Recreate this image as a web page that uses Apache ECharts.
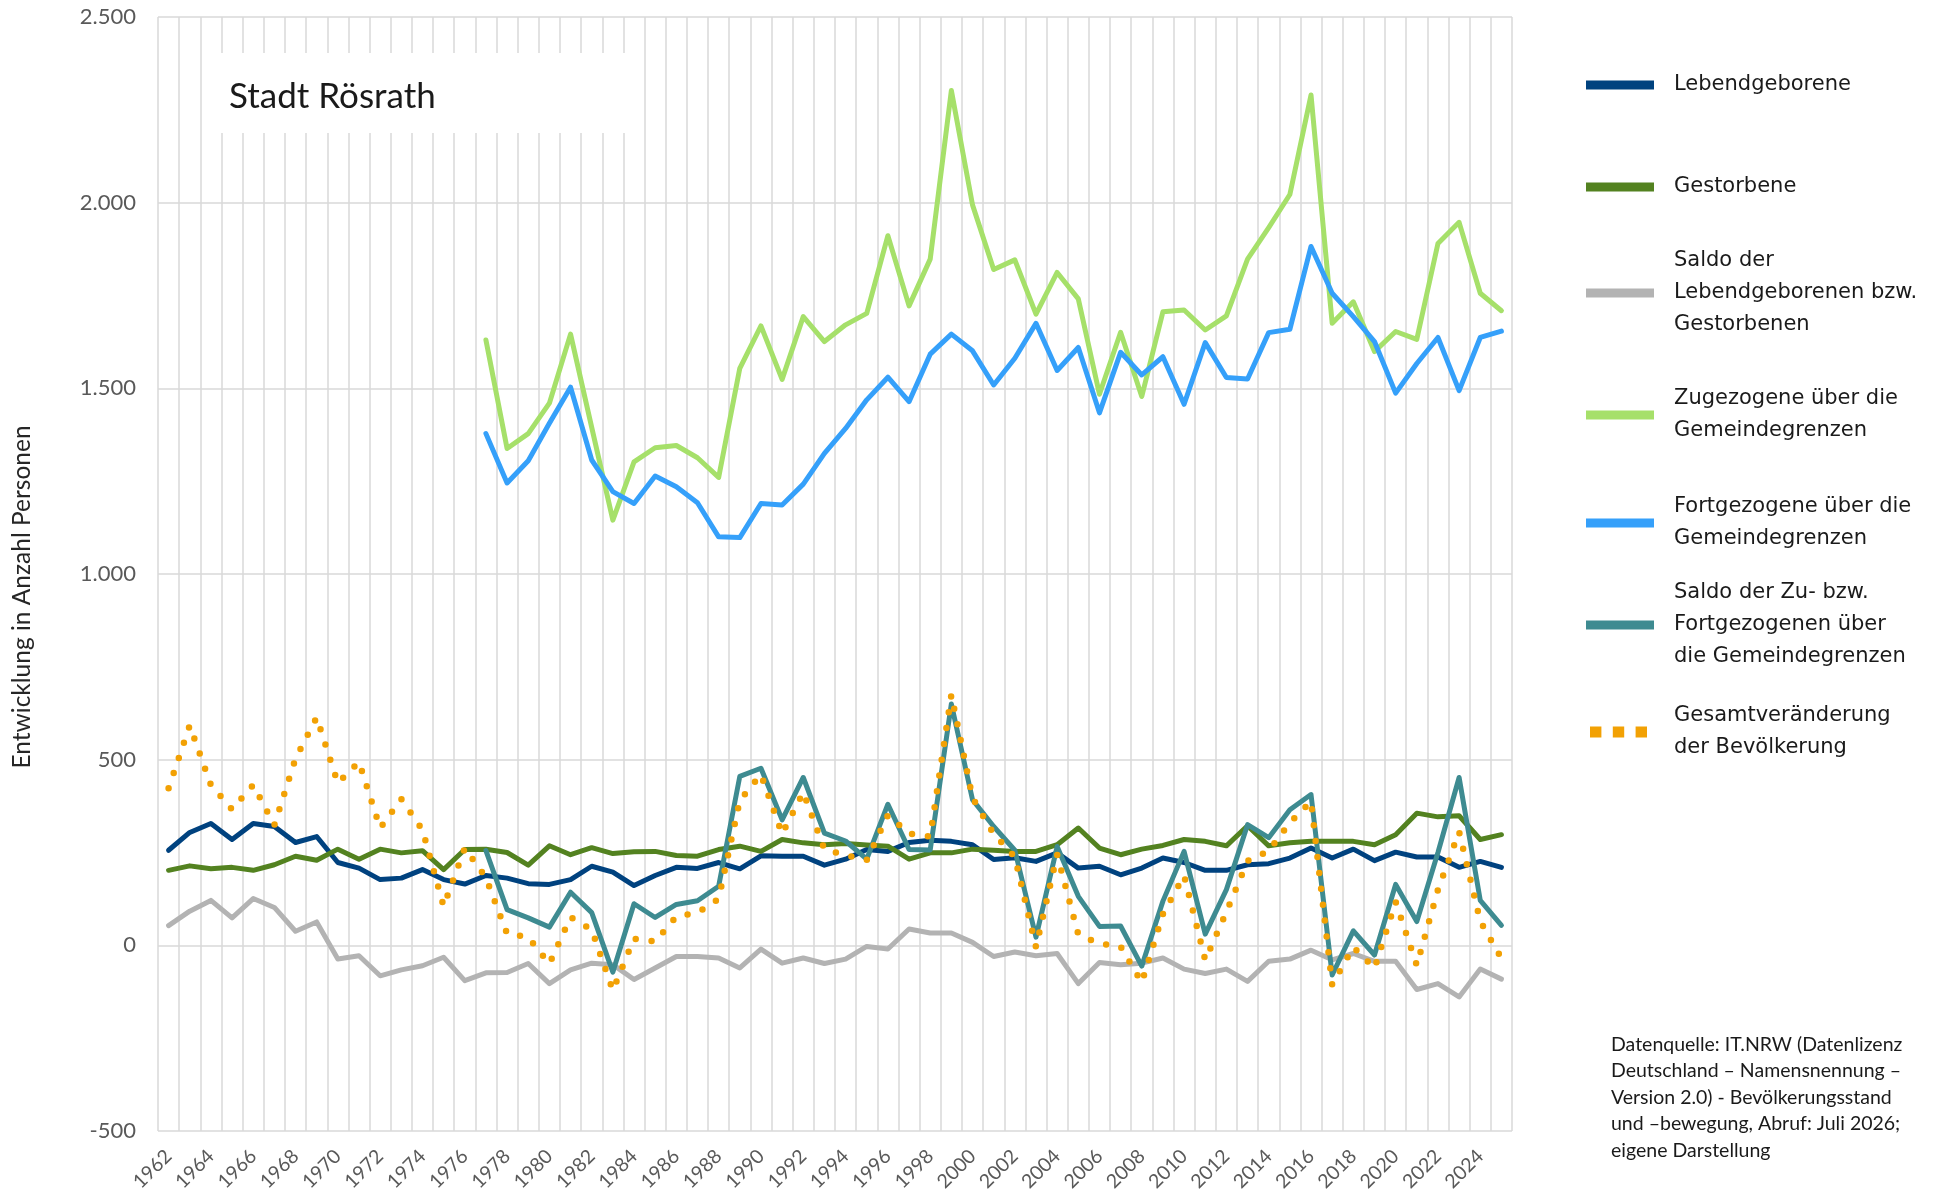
<!DOCTYPE html>
<html>
<head>
<meta charset="utf-8">
<script src="https://cdn.jsdelivr.net/npm/echarts@6/dist/echarts.min.js"></script>
<style>
html,body{margin:0;padding:0;background:#fff;}
#chart{width:1943px;height:1200px;}
</style>
</head>
<body>
<div id="chart"></div>
<script>
var years = ['1962','1963','1964','1965','1966','1967','1968','1969','1970','1971','1972','1973','1974','1975','1976','1977','1978','1979','1980','1981','1982','1983','1984','1985','1986','1987','1988','1989','1990','1991','1992','1993','1994','1995','1996','1997','1998','1999','2000','2001','2002','2003','2004','2005','2006','2007','2008','2009','2010','2011','2012','2013','2014','2015','2016','2017','2018','2019','2020','2021','2022','2023','2024','2025'];

var lebendgeborene = [256,304,328,285,328,320,277,293,223,208,177,181,204,177,165,188,181,166,164,177,213,197,161,188,210,207,223,206,241,240,240,216,232,258,253,277,283,280,271,231,236,226,249,208,213,190,208,235,223,202,202,217,220,235,262,235,259,228,251,238,238,210,226,210];

var gestorbene = [202,214,206,210,202,217,240,229,259,232,259,249,255,204,258,259,250,216,268,244,263,247,252,253,242,240,258,267,253,285,276,271,274,270,267,232,249,249,259,256,253,253,271,316,262,244,259,269,285,280,268,322,268,276,280,280,280,271,298,356,346,349,285,298];

var saldoNatuerlich = [53,92,121,74,126,102,38,63,-37,-28,-82,-66,-55,-32,-95,-74,-73,-49,-103,-66,-48,-52,-92,-61,-30,-30,-34,-61,-10,-48,-34,-49,-37,-3,-10,44,33,33,8,-30,-18,-28,-22,-103,-46,-52,-48,-34,-64,-76,-64,-97,-43,-37,-13,-39,-22,-43,-43,-119,-103,-139,-64,-91];

var zugezogene = [null,null,null,null,null,null,null,null,null,null,null,null,null,null,null,1630,1338,1378,1460,1646,1395,1145,1302,1340,1346,1313,1260,1554,1668,1524,1693,1626,1671,1702,1911,1722,1848,2302,1994,1820,1846,1700,1812,1741,1484,1651,1478,1706,1711,1657,1695,1848,1933,2022,2290,1675,1733,1599,1653,1632,1890,1947,1756,1709];

var fortgezogene = [null,null,null,null,null,null,null,null,null,null,null,null,null,null,null,1378,1245,1305,1406,1503,1307,1222,1190,1264,1235,1192,1100,1098,1190,1186,1242,1325,1392,1469,1530,1464,1592,1646,1601,1509,1581,1675,1548,1610,1434,1597,1536,1585,1457,1623,1529,1525,1650,1659,1882,1756,1693,1626,1487,1567,1637,1494,1637,1654];

var saldoWanderung = [null,null,null,null,null,null,null,null,null,null,null,null,null,null,null,255,96,74,49,143,88,-72,112,75,110,120,159,455,477,338,452,302,281,232,380,258,257,650,392,320,256,22,266,132,51,52,-56,119,253,30,150,325,290,365,406,-80,39,-26,164,64,250,452,121,54];

var gesamt = [423,592,432,366,432,324,503,614,437,494,316,394,311,105,262,182,31,22,-50,76,42,-121,18,10,78,88,125,390,460,300,412,258,243,230,350,301,293,675,397,300,238,-5,244,29,5,-3,-100,84,188,-40,90,227,254,330,388,-106,-5,-62,117,-54,150,306,65,-35];

var seriesNames = ['Lebendgeborene','Gestorbene','Saldo der Lebendgeborenen bzw. Gestorbenen','Zugezogene über die Gemeindegrenzen','Fortgezogene über die Gemeindegrenzen','Saldo der Zu- bzw. Fortgezogenen über die Gemeindegrenzen','Gesamtveränderung der Bevölkerung'];
var legendLabels = ['Lebendgeborene','Gestorbene','Saldo der\nLebendgeborenen bzw.\nGestorbenen','Zugezogene über die\nGemeindegrenzen','Fortgezogene über die\nGemeindegrenzen','Saldo der Zu- bzw.\nFortgezogenen über\ndie Gemeindegrenzen','Gesamtveränderung\nder Bevölkerung'];
var seriesColors = ['#00427f','#538220','#b3b3b3','#a6e06a','#35a0fa','#3e8b91','#f2a104'];
var seriesData = [lebendgeborene, gestorbene, saldoNatuerlich, zugezogene, fortgezogene, saldoWanderung, gesamt];
var legendTops = [69,171,245,383,491,577,700];

function fmt(v){
  var s = Math.abs(v).toString();
  s = s.replace(/\B(?=(\d{3})+(?!\d))/g, '.');
  return (v < 0 ? '-' : '') + s;
}

var chart = echarts.init(document.getElementById('chart'), null, {renderer:'canvas'});

var series = seriesData.map(function(d, i){
  var isDot = (i === 6);
  return {
    name: seriesNames[i],
    type: 'line',
    data: d,
    symbol: 'none',
    connectNulls: false,
    color: seriesColors[i],
    itemStyle: {color: seriesColors[i]},
    lineStyle: isDot ? {color: seriesColors[i], width: 6.5, type: [0, 16], cap: 'round', join: 'round'}
                     : {color: seriesColors[i], width: 5, cap: 'round', join: 'round'},
    emphasis: {disabled: true},
    animation: false,
    z: 2 + i
  };
});

var legends = seriesNames.map(function(n, i){
  var isDot = (i === 6);
  return {
    data: [n],
    left: isDot ? 1590 : 1586,
    top: legendTops[i],
    orient: 'vertical',
    padding: 0,
    itemWidth: isDot ? 57 : 68,
    itemHeight: isDot ? 11 : 9,
    icon: isDot ? 'path://M0,0h10v10h-10z M20,0h10v10h-10z M40,0h10v10h-10z' : 'rect',
    symbolKeepAspect: false,
    selectedMode: false,
    itemStyle: {borderWidth: 0},
    lineStyle: {width: 0},
    formatter: function(){ return legendLabels[i]; },
    textStyle: {
      fontFamily: 'DejaVu Sans',
      fontSize: 21,
      color: '#1a1a1a',
      lineHeight: 32,
      padding: [0, 0, 0, isDot ? 22 : 15]
    }
  };
});

var option = {
  backgroundColor: '#ffffff',
  animation: false,
  grid: {left: 158, right: 431, top: 17, bottom: 69, containLabel: false, outerBoundsMode: 'none'},
  xAxis: {
    type: 'category',
    data: years,
    boundaryGap: true,
    axisLine: {show: false},
    axisTick: {show: false},
    axisLabel: {
      interval: 1,
      rotate: 45,
      margin: 22,
      fontFamily: 'Lato',
      fontSize: 19.5,
      color: '#595959'
    },
    splitLine: {show: true, interval: 0, lineStyle: {color: '#d9d9d9', width: 1.5}}
  },
  yAxis: {
    type: 'value',
    min: -500,
    max: 2500,
    interval: 500,
    axisLine: {show: false},
    axisTick: {show: false},
    axisLabel: {
      margin: 22,
      fontFamily: 'Lato',
      fontSize: 22,
      color: '#595959',
      formatter: fmt
    },
    splitLine: {show: true, lineStyle: {color: '#d9d9d9', width: 1.5}}
  },
  legend: legends,
  series: series,
  graphic: [
    {
      type: 'rect',
      shape: {x: 205, y: 53, width: 436, height: 80},
      style: {fill: '#ffffff'},
      z: 100
    },
    {
      type: 'text',
      x: 229, y: 97,
      style: {text: 'Stadt Rösrath', fontFamily: 'Lato', fontSize: 35, fill: '#1a1a1a', verticalAlign: 'middle'},
      z: 101
    },
    {
      type: 'text',
      x: 22, y: 597,
      rotation: Math.PI / 2,
      style: {text: 'Entwicklung in Anzahl Personen', fontFamily: 'Lato', fontSize: 24.5, fill: '#262626', align: 'center', verticalAlign: 'middle'},
      z: 101
    },
    {
      type: 'text',
      x: 1611, y: 1031,
      style: {
        text: 'Datenquelle: IT.NRW (Datenlizenz\nDeutschland – Namensnennung –\nVersion 2.0) - Bevölkerungsstand\nund –bewegung, Abruf: Juli 2026;\neigene Darstellung',
        fontFamily: 'Lato', fontSize: 19.5, lineHeight: 26.5, fill: '#1a1a1a'
      },
      z: 101
    }
  ]
};
chart.setOption(option);
</script>
</body>
</html>
